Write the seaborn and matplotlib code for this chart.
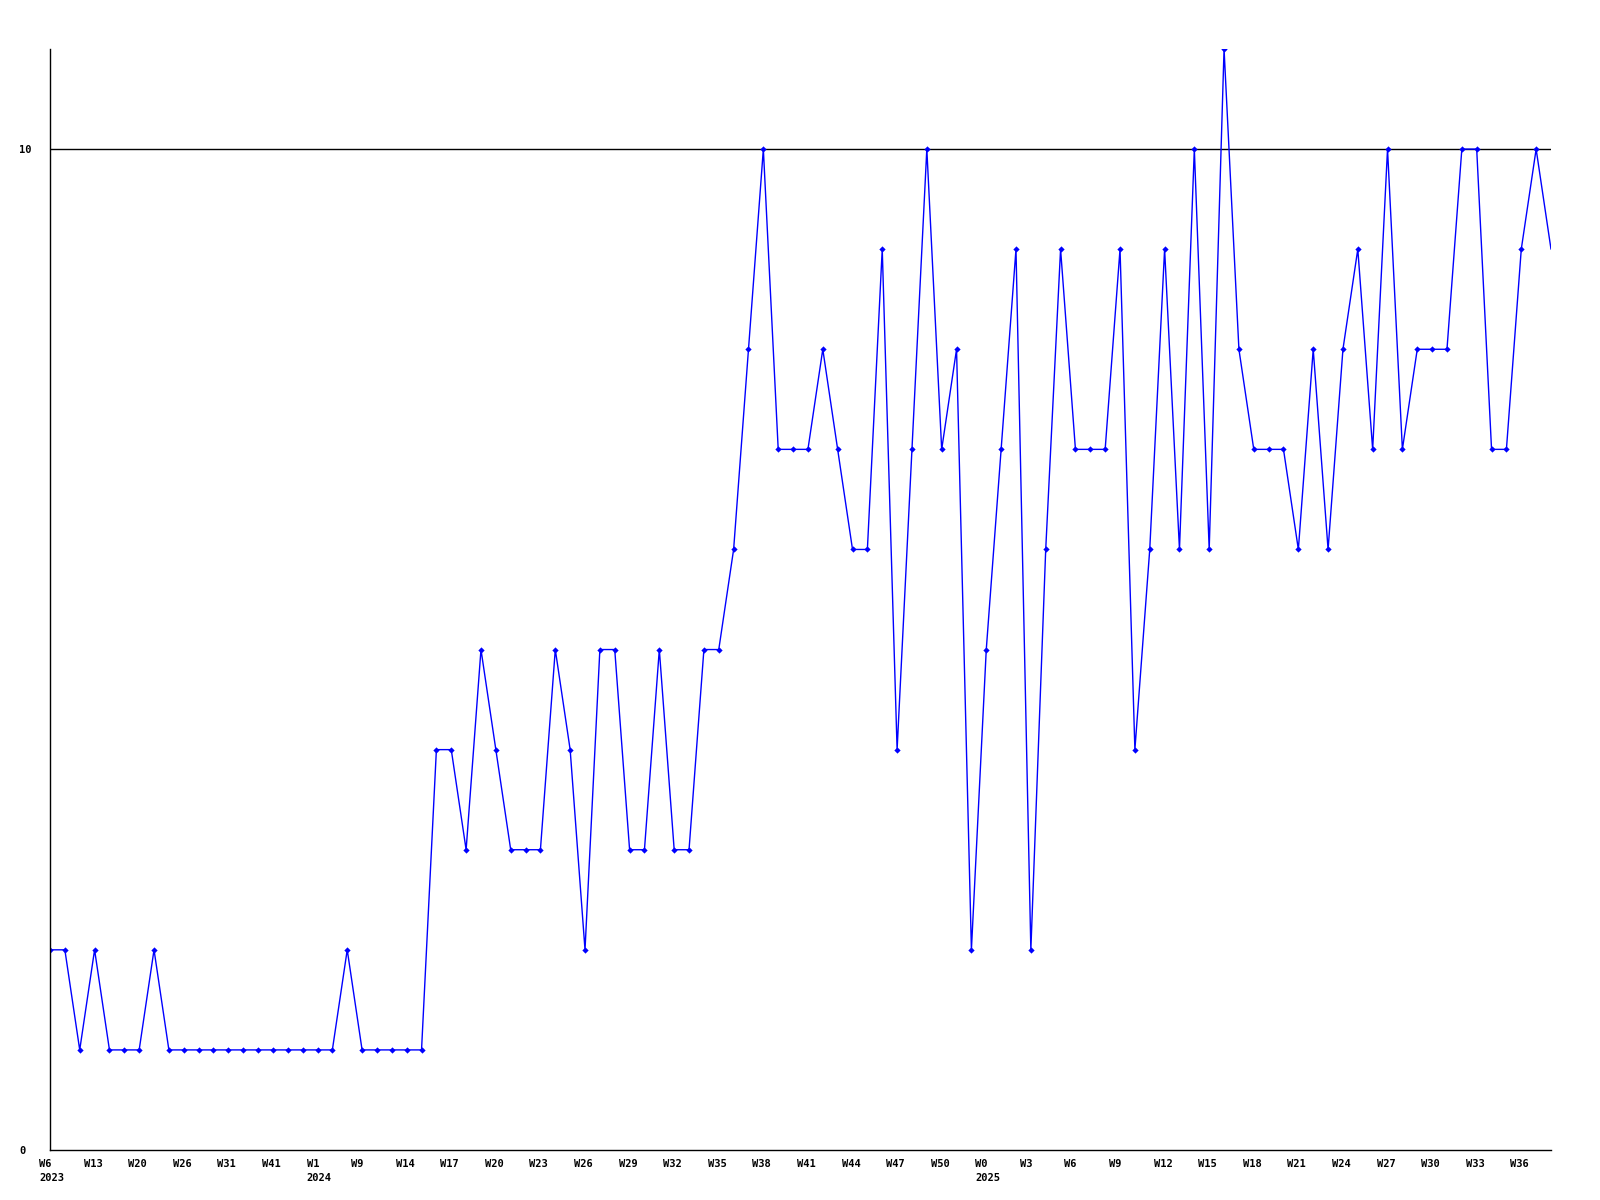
import numpy as np
import pandas as pd
import seaborn as sns
import matplotlib
matplotlib.use("Agg")
import matplotlib.pyplot as plt
from matplotlib.transforms import ScaledTranslation

# weekly values, one per point
values = [2, 2, 1, 2, 1, 1, 1, 2, 1, 1,
          1, 1, 1, 1, 1, 1, 1, 1, 1, 1,
          2, 1, 1, 1, 1, 1, 4, 4, 3, 5,
          4, 3, 3, 3, 5, 4, 2, 5, 5, 3,
          3, 5, 3, 3, 5, 5, 6, 8, 10, 7,
          7, 7, 8, 7, 6, 6, 9, 4, 7, 10,
          7, 8, 2, 5, 7, 9, 2, 6, 9, 7,
          7, 7, 9, 4, 6, 9, 6, 10, 6, 11,
          8, 7, 7, 7, 6, 8, 6, 8, 9, 7,
          10, 7, 8, 8, 8, 10, 10, 7, 7, 9,
          10, 9]

# a label every third point
week_labels = ["W6", "W13", "W20", "W26", "W31", "W41", "W1", "W9", "W14", "W17",
               "W20", "W23", "W26", "W29", "W32", "W35", "W38", "W41", "W44", "W47",
               "W50", "W0", "W3", "W6", "W9", "W12", "W15", "W18", "W21", "W24",
               "W27", "W30", "W33", "W36"]
year_labels = {0: "2023", 6: "2024", 21: "2025"}

df = pd.DataFrame({"idx": np.arange(len(values)), "value": values})

sns.set_style("white")
plt.rcParams["font.family"] = ["DejaVu Sans Mono"]

fig = plt.figure(figsize=(16, 12), dpi=100)
ax = fig.add_axes([50 / 1600, 50 / 1200, 1501 / 1600, 1101 / 1200])

sns.lineplot(data=df, x="idx", y="value", ax=ax, color="#0000ff", linewidth=1.0,
             marker="D", markersize=3.2, markeredgewidth=0,
             markevery=list(range(len(values) - 1)))

ax.set_xlim(0, len(values) - 1)
ax.set_ylim(0, 11)
ax.set_xlabel("")
ax.set_ylabel("")

for s in ["top", "right"]:
    ax.spines[s].set_visible(False)
for s in ["left", "bottom"]:
    ax.spines[s].set_color("black")
    ax.spines[s].set_linewidth(1.0)

ax.axhline(10, color="black", linewidth=1.0, zorder=1)

ticks = list(range(0, len(values) - 1, 3))
labels = []
for i, w in enumerate(week_labels):
    labels.append(w + ("\n" + year_labels[i] if i in year_labels else ""))
ax.set_xticks(ticks)
ax.set_xticklabels(labels, fontsize=7.5, fontweight="bold", linespacing=1.45, color="black")
ax.set_yticks([0, 10])
ax.set_yticklabels(["0", "10"], fontsize=7.5, fontweight="bold", color="black")
ax.tick_params(axis="x", length=0, pad=6.5, labelcolor="black")
ax.tick_params(axis="y", length=0, pad=0, labelcolor="black")

for lbl in ax.get_xticklabels():
    lbl.set_ha("left")
    lbl.set_va("top")
    lbl.set_transform(lbl.get_transform() + ScaledTranslation(-11 / 100, 0, fig.dpi_scale_trans))
for lbl in ax.get_yticklabels():
    lbl.set_ha("left")
    lbl.set_transform(lbl.get_transform() + ScaledTranslation(-31 / 100, 0, fig.dpi_scale_trans))

fig.savefig("out.png", dpi=100, facecolor="white")
